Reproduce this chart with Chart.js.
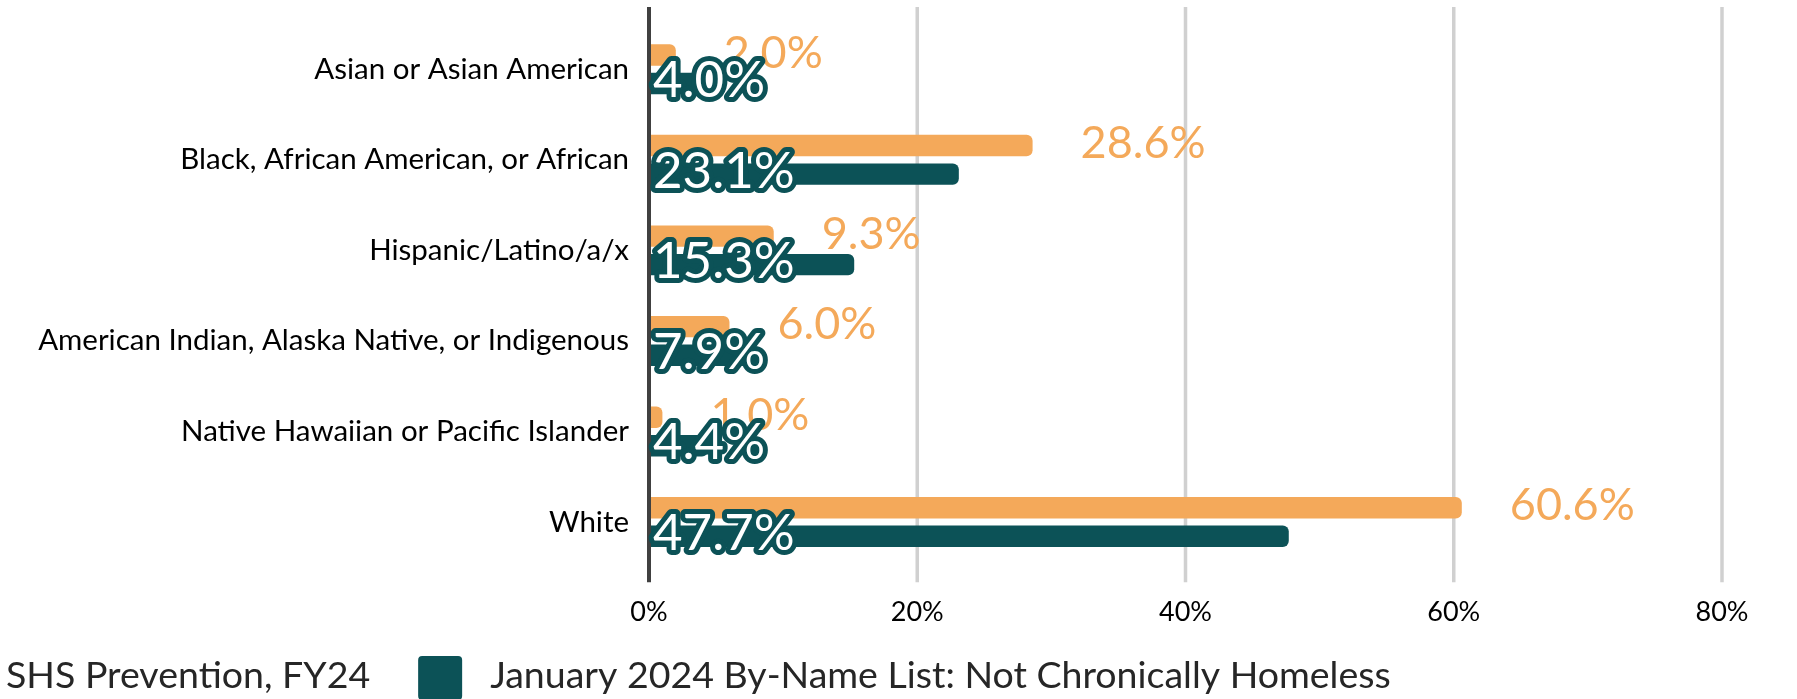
<!DOCTYPE html>
<html>
<head>
<meta charset="utf-8">
<title>Race / ethnicity comparison</title>
<script src="https://cdn.jsdelivr.net/npm/chart.js@4.4.1/dist/chart.umd.min.js"></script>
<style>
  html, body { margin: 0; padding: 0; background: #fff; overflow: hidden; }
  #wrap { position: relative; width: 1797px; height: 699px; }
</style>
</head>
<body>
<div id="wrap"><canvas id="myChart"></canvas></div>
<script>
// data
const categories = [
    "Asian or Asian American",
    "Black, African American, or African",
    "Hispanic/Latino/a/x",
    "American Indian, Alaska Native, or Indigenous",
    "Native Hawaiian or Pacific Islander",
    "White"
]
const shsPrevention = [2.0, 28.6, 9.3, 6.0, 1.0, 60.6]
const byNameList = [4.0, 23.1, 15.3, 7.9, 4.4, 47.7]
const seriesNames = ["SHS Prevention, FY24", "January 2024 By-Name List: Not Chronically Homeless"]
const xTicks = [0, 20, 40, 60, 80]

const ORANGE = '#F4A95A'
const TEAL = '#0C5257'
const FONT = 'Lato'

// gridlines + axis line, drawn a little past the plot area like the original
const gridPlugin = {
    id: 'grid',
    beforeDatasetsDraw(chart) {
        const {ctx, chartArea, scales: {x}} = chart
        ctx.save()
        ctx.strokeStyle = '#D0D0D0'
        ctx.lineWidth = 3.5
        xTicks.forEach(v => {
            if (v === 0) return
            const px = x.getPixelForValue(v)
            ctx.beginPath()
            ctx.moveTo(px, chartArea.top - 17)
            ctx.lineTo(px, chartArea.bottom + 15)
            ctx.stroke()
        })
        ctx.restore()
    },
    afterDatasetsDraw(chart) {
        const {ctx, chartArea, scales: {x}} = chart
        const px = x.getPixelForValue(0)
        ctx.save()
        ctx.strokeStyle = '#404040'
        ctx.lineWidth = 4
        ctx.beginPath()
        ctx.moveTo(px, chartArea.top - 17)
        ctx.lineTo(px, chartArea.bottom + 15)
        ctx.stroke()
        ctx.restore()
    }
}

// value labels: orange ones outside the bar end, teal ones white with an outline at the bar start
const labelPlugin = {
    id: 'valueLabels',
    afterDatasetsDraw(chart) {
        const {ctx} = chart
        ctx.save()
        ctx.textBaseline = 'middle'
        ctx.textAlign = 'left'
        ctx.lineJoin = 'round'

        ctx.font = `45px ${FONT}`
        chart.getDatasetMeta(0).data.forEach((bar, i) => {
            const txt = chart.data.datasets[0].data[i].toFixed(1) + '%'
            ctx.fillStyle = ORANGE
            ctx.fillText(txt, bar.x + 48, bar.y - 2)
        })

        ctx.font = `51px ${FONT}`
        chart.getDatasetMeta(1).data.forEach((bar, i) => {
            const txt = chart.data.datasets[1].data[i].toFixed(1) + '%'
            const tx = bar.base + 4
            ctx.strokeStyle = TEAL
            ctx.lineWidth = 10
            ctx.strokeText(txt, tx, bar.y - 3)
            ctx.fillStyle = '#FFFFFF'
            ctx.fillText(txt, tx, bar.y - 3)
        })
        ctx.restore()
    }
}

// legend at the bottom; first swatch sits off the left edge as in the source crop
const legendPlugin = {
    id: 'customLegend',
    afterDraw(chart) {
        const {ctx} = chart
        const box = 44
        const y = 656
        let x = -66
        ctx.save()
        ctx.font = `37.5px ${FONT}`
        ctx.textBaseline = 'middle'
        ctx.textAlign = 'left'
        chart.data.datasets.forEach(ds => {
            ctx.fillStyle = ds.backgroundColor
            ctx.beginPath()
            if (ctx.roundRect) ctx.roundRect(x, y, box, box, 4)
            else ctx.rect(x, y, box, box)
            ctx.fill()
            const tx = x + box + 28
            ctx.fillStyle = '#262626'
            ctx.fillText(ds.label, tx, y + 20)
            x = tx + ctx.measureText(ds.label).width + 48
        })
        ctx.restore()
    }
}

const ctx = document.getElementById("myChart")

new Chart(ctx, {
    type: 'bar',
    data: {
        labels: categories,
        datasets: [{
            label: seriesNames[0],
            data: shsPrevention,
            backgroundColor: ORANGE,
            borderRadius: 6,
            borderSkipped: 'start',
            categoryPercentage: 0.63,
            barPercentage: 0.75
        }, {
            label: seriesNames[1],
            data: byNameList,
            backgroundColor: TEAL,
            borderRadius: 6,
            borderSkipped: 'start',
            categoryPercentage: 0.63,
            barPercentage: 0.75
        }]
    },
    options: {
        indexAxis: 'y',
        responsive: true,
        maintainAspectRatio: false,
        animation: false,
        layout: {
            padding: {top: 24, right: 75, bottom: 60, left: 0}
        },
        plugins: {
            legend: {display: false},
            tooltip: {enabled: false}
        },
        scales: {
            x: {
                min: 0,
                max: 80,
                afterBuildTicks: scale => { scale.ticks = xTicks.map(v => ({value: v})) },
                afterFit: scale => {
                    scale.height = 71.7
                    scale.paddingLeft = 0
                    scale.paddingRight = 0
                },
                grid: {display: false, drawTicks: false},
                border: {display: false},
                ticks: {
                    padding: 29,
                    color: '#000',
                    font: {family: FONT, size: 27},
                    callback: v => v + '%'
                }
            },
            y: {
                afterFit: scale => {
                    scale.width = 649
                    // keep the plot area where the reference has it
                    scale.paddingTop = 0
                    scale.paddingBottom = 0
                },
                grid: {display: false, drawTicks: false},
                border: {display: false},
                ticks: {
                    padding: 20,
                    color: '#000',
                    font: {family: FONT, size: 29.5}
                }
            }
        }
    },
    plugins: [gridPlugin, labelPlugin, legendPlugin]
})
</script>
</body>
</html>
